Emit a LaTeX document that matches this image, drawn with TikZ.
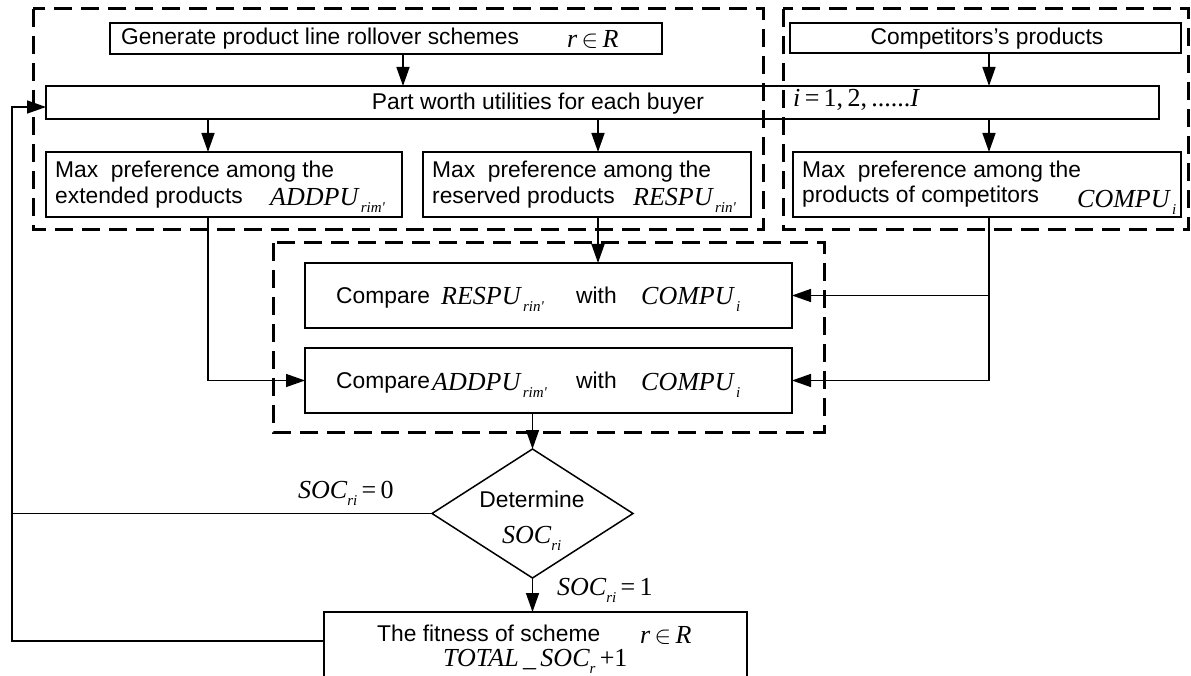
\documentclass[tikz,border=0pt]{standalone}
\usepackage{fontspec}
\setmainfont{Liberation Sans}
\newfontfamily\tmf{Liberation Serif}
\usetikzlibrary{arrows.meta,shapes.geometric}
\newcommand{\SB}[1]{\raisebox{-7pt}{\fontsize{15}{18}\selectfont\tmf\itshape #1}}
\newcommand{\UP}[1]{{\upshape #1}}
\tikzset{
  box/.style={draw, line width=1.5pt, inner sep=0pt, outer sep=0pt},
  grp/.style={draw, line width=3pt, dash pattern=on 18pt off 9pt},
  arr/.style={line width=1.5pt, -{Triangle[length=19pt,width=13pt]}},
  ln/.style={line width=1.5pt},
  txt/.style={anchor=base west, inner sep=0pt, font=\fontsize{22.8}{27}\selectfont},
  mth/.style={anchor=base west, inner sep=0pt, font=\fontsize{26}{30}\selectfont\tmf\itshape},
}
\begin{document}
\begin{tikzpicture}[x=1pt, y=-1pt]
\useasboundingbox (0,0) rectangle (1191,676);
\clip (0,0) rectangle (1191,676);
% dashed groups
\draw[grp] (33,9) rectangle (763,230);
\draw[grp] (783,9) rectangle (1188,230);
\draw[grp] (273,243) rectangle (824,432);
% boxes
\node[box, minimum width=552pt, minimum height=31pt] (gen) at (386,38.5) {};
\node[box, minimum width=391pt, minimum height=30pt] (comp) at (985.5,38) {};
\node[box, minimum width=1113pt, minimum height=33pt] (pw) at (602.5,102.5) {};
\node[box, minimum width=356pt, minimum height=65pt] (ext) at (224,184.5) {};
\node[box, minimum width=328pt, minimum height=65pt] (res) at (587,184.5) {};
\node[box, minimum width=388pt, minimum height=65pt] (cmax) at (987,184.5) {};
\node[box, minimum width=487pt, minimum height=65pt] (cmpR) at (548.5,295.5) {};
\node[box, minimum width=487pt, minimum height=65pt] (cmpA) at (548.5,380.5) {};
\node[box, diamond, minimum width=201pt, minimum height=129pt] (dia) at (532.5,513.5) {};
\node[box, minimum width=423pt, minimum height=88pt] (fit) at (535.5,656) {};
\coordinate (fbx) at (12,400);
% texts
\node[txt] (tgen) at (121,45) {Generate product line rollover schemes};
\node[mth] (rgen) at (567,48) {r\,\UP{$\in$}\,R};
\node[txt, anchor=base] (tcomp) at (987,45) {Competitors’s products};
\node[txt, anchor=base] (tpw) at (538,110) {Part worth utilities for each buyer};
\node[mth] (ieq) at (793,107) {i\,\UP{=\,1,\,2,\,......}I};
\node[txt] (te1) at (55,178) {Max\ \ preference among the};
\node[txt] (te2) at (55,204) {extended products};
\node[mth] (vadd) at (270,206) {ADDPU\SB{\,rim'}};
\node[txt] (tr1) at (432,178) {Max\ \ preference among the};
\node[txt] (tr2) at (432,204) {reserved products};
\node[mth] (vres) at (633,206) {RESPU\SB{\,rin'}};
\node[txt] (tc1) at (802,178) {Max\ \ preference among the};
\node[txt] (tc2) at (802,203) {products of competitors};
\node[mth] (vcom) at (1077,208) {COMPU\SB{\,i}};
\node[txt] (tcr1) at (336,303) {Compare};
\node[mth] (tcr2) at (441,305) {RESPU\SB{\,rin'}};
\node[txt] (tcr3) at (576,303) {with};
\node[mth] (tcr4) at (641,305) {COMPU\SB{\,i}};
\node[txt] (tca1) at (336,388) {Compare};
\node[mth] (tca2) at (432,390) {ADDPU\SB{\,rim'}};
\node[txt] (tca3) at (576,388) {with};
\node[mth] (tca4) at (641,390) {COMPU\SB{\,i}};
\node[txt, anchor=base] (td1) at (532,507) {Determine};
\node[mth] (td2) at (502,543) {SOC\SB{ri}};
\node[mth] (l0) at (298,498) {SOC\SB{ri}\,\UP{=\,0}};
\node[mth] (l1) at (557,595) {SOC\SB{ri}\,\UP{=\,1}};
\node[txt] (tf1) at (377,641) {The fitness of scheme};
\node[mth] (tf2) at (640,643) {r\,\UP{$\in$}\,R};
\node[mth] (tf3) at (443,666) {TOTAL\,\_\,SOC\SB{r}\,\UP{+1}};
% connectors
\draw[arr] ([xshift=17pt]gen.south) -- ([xshift=17pt]gen.south |- pw.north);
\draw[arr] ([xshift=3.5pt]comp.south) -- ([xshift=3.5pt]comp.south |- pw.north);
\draw[arr] ([xshift=-16pt]ext.north |- pw.south) -- ([xshift=-16pt]ext.north);
\draw[arr] ([xshift=11pt]res.north |- pw.south) -- ([xshift=11pt]res.north);
\draw[arr] ([xshift=2pt]cmax.north |- pw.south) -- ([xshift=2pt]cmax.north);
\draw[arr] ([xshift=-16pt]ext.south) |- (cmpA.west);
\draw[arr] ([xshift=11pt]res.south) -- ([xshift=11pt]res.south |- cmpR.north);
\draw[arr] ([xshift=2pt]cmax.south) |- (cmpR.east);
\draw[arr] ([xshift=2pt]cmax.south) |- (cmpA.east);
\draw[arr] (cmpA.south -| dia.north) -- (dia.north);
\draw[arr] (dia.south) -- (dia.south |- fit.north);
\draw[ln] (dia.west) -- (dia.west -| fbx);
\draw[arr] ([yshift=15pt]fit.west) -| (fbx) |- ([yshift=-4.5pt]pw.west);
\end{tikzpicture}
\end{document}
